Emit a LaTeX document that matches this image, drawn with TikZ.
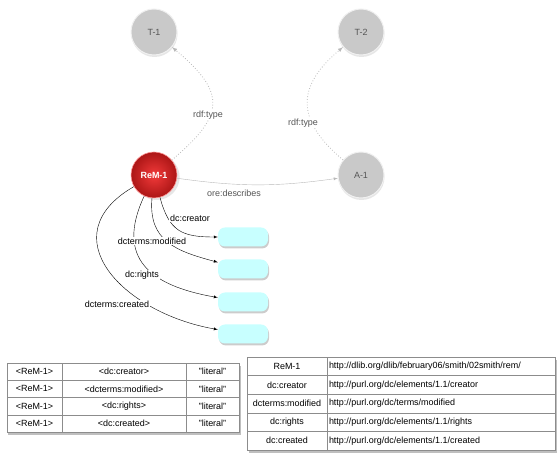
\documentclass[tikz,border=0pt]{standalone}
\usepackage{fontspec}
\setmainfont{Liberation Sans}
\usepackage{xcolor}
\usetikzlibrary{positioning,shadows}
\definecolor{resgray}{RGB}{201,201,201}
\definecolor{restext}{RGB}{85,85,85}
\definecolor{litcyan}{RGB}{200,255,255}
\definecolor{remin}{RGB}{242,58,58}
\definecolor{remout}{RGB}{172,22,22}
\definecolor{edgegray}{RGB}{185,185,185}

\begin{document}
\begin{tikzpicture}[x=1bp,y=1bp,>=latex,
            res/.style={circle,minimum size=46bp,inner sep=0pt,fill=resgray,draw=white!88!gray,line width=1bp,
                drop shadow={opacity=0.2,shadow xshift=0.5bp,shadow yshift=-2bp},
                text=restext,font=\fontsize{9}{10}\selectfont},
            lit/.style={rounded corners=7bp,minimum width=50bp,minimum height=19bp,inner sep=0pt,fill=litcyan,
                drop shadow={opacity=0.4,shadow xshift=1bp,shadow yshift=-2bp}},
            prop/.style={fill=white,inner sep=1bp,font=\fontsize{9}{10}\selectfont},
            tab/.style={fill=white,inner sep=0pt,draw=gray,
                drop shadow={opacity=0.5,shadow xshift=1.5bp,shadow yshift=-3bp}},
            cell/.style={draw=gray!90,inner sep=0pt,font=\fontsize{9}{10}\selectfont}]
            \useasboundingbox (0,0) rectangle (560,464);
            % resources
            \node[res] (tone) at (154,432) {T-1};
            \node[res] (ttwo) at (361,432) {T-2};
            \node[res] (aone) at (361,289) {A-1};
            \node[circle,minimum size=46bp,inner sep=0pt,shade,inner color=remin,outer color=remout,
                draw=red!40!white,line width=0.6bp,drop shadow={opacity=0.2,shadow yshift=-2bp},
                text=white,font=\bfseries\fontsize{9}{10}\selectfont] (rem) at (154,289) {ReM-1};
            % literals
            \node[lit] (lita) at (243,227) {};
            \node[lit] (litb) at (243,195) {};
            \node[lit] (litc) at (243,162) {};
            \node[lit] (litd) at (243,130) {};
            % relations
            \draw[->,edgegray,dotted,thick] (rem) to[out=40,in=-40,looseness=1.6] (tone);
            \draw[->,edgegray,dotted,thick] (aone) to[out=140,in=-140,looseness=1.4] (ttwo);
            \draw[->,edgegray] (rem) to[bend right=8] (aone);
            \draw[->,black] (rem) to[out=-75,in=180,looseness=1.3] (lita);
            \draw[->,black] (rem) to[out=-95,in=165,looseness=1.2] (litb);
            \draw[->,black] (rem) to[out=-115,in=170,looseness=1.4] (litc);
            \draw[->,black] (rem) to[out=-150,in=170,looseness=1.5] (litd);
            \node[prop,text=restext] (typea) at (208,349) {rdf:type};
            \node[prop,text=restext] (typeb) at (303,341) {rdf:type};
            \node[prop,text=restext] (descr) at (234,271) {ore:describes};
            \node[prop] (creator) at (190,246) {dc:creator};
            \node[prop] (modified) at (152,223) {dcterms:modified};
            \node[prop] (rights) at (142,189) {dc:rights};
            \node[prop] (created) at (117,160) {dcterms:created};
            % triples table
            \node[tab,minimum width=232bp,minimum height=69bp] (ltab) at (123,66.5) {};
            \node[cell,minimum width=55bp,minimum height=17.25bp] (la1) at (34.5,92.4) {<ReM-1>};
            \node[cell,minimum width=124bp,minimum height=17.25bp] (lb1) at (124,92.4) {<dc:creator>};
            \node[cell,minimum width=53bp,minimum height=17.25bp] (lc1) at (212.5,92.4) {"literal"};
            \node[cell,minimum width=55bp,minimum height=17.25bp] (la2) at (34.5,75.1) {<ReM-1>};
            \node[cell,minimum width=124bp,minimum height=17.25bp] (lb2) at (124,75.1) {<dcterms:modified>};
            \node[cell,minimum width=53bp,minimum height=17.25bp] (lc2) at (212.5,75.1) {"literal"};
            \node[cell,minimum width=55bp,minimum height=17.25bp] (la3) at (34.5,57.9) {<ReM-1>};
            \node[cell,minimum width=124bp,minimum height=17.25bp] (lb3) at (124,57.9) {<dc:rights>};
            \node[cell,minimum width=53bp,minimum height=17.25bp] (lc3) at (212.5,57.9) {"literal"};
            \node[cell,minimum width=55bp,minimum height=17.25bp] (la4) at (34.5,40.6) {<ReM-1>};
            \node[cell,minimum width=124bp,minimum height=17.25bp] (lb4) at (124,40.6) {<dc:created>};
            \node[cell,minimum width=53bp,minimum height=17.25bp] (lc4) at (212.5,40.6) {"literal"};
            % namespace table
            \node[tab,minimum width=308bp,minimum height=93bp] (rtab) at (401,60.5) {};
            \node[cell,minimum width=80bp,minimum height=18.6bp] (ra1) at (287,97.7) {ReM-1};
            \node[cell,text width=224bp,inner xsep=2bp,minimum height=18.6bp,align=left] (rb1) at (441,97.7) {http://dlib.org/dlib/february06/smith/02smith/rem/};
            \node[cell,minimum width=80bp,minimum height=18.6bp] (ra2) at (287,79.1) {dc:creator};
            \node[cell,text width=224bp,inner xsep=2bp,minimum height=18.6bp,align=left] (rb2) at (441,79.1) {http://purl.org/dc/elements/1.1/creator};
            \node[cell,minimum width=80bp,minimum height=18.6bp] (ra3) at (287,60.5) {dcterms:modified};
            \node[cell,text width=224bp,inner xsep=2bp,minimum height=18.6bp,align=left] (rb3) at (441,60.5) {http://purl.org/dc/terms/modified};
            \node[cell,minimum width=80bp,minimum height=18.6bp] (ra4) at (287,41.9) {dc:rights};
            \node[cell,text width=224bp,inner xsep=2bp,minimum height=18.6bp,align=left] (rb4) at (441,41.9) {http://purl.org/dc/elements/1.1/rights};
            \node[cell,minimum width=80bp,minimum height=18.6bp] (ra5) at (287,23.3) {dc:created};
            \node[cell,text width=224bp,inner xsep=2bp,minimum height=18.6bp,align=left] (rb5) at (441,23.3) {http://purl.org/dc/elements/1.1/created};
\end{tikzpicture}
\end{document}
